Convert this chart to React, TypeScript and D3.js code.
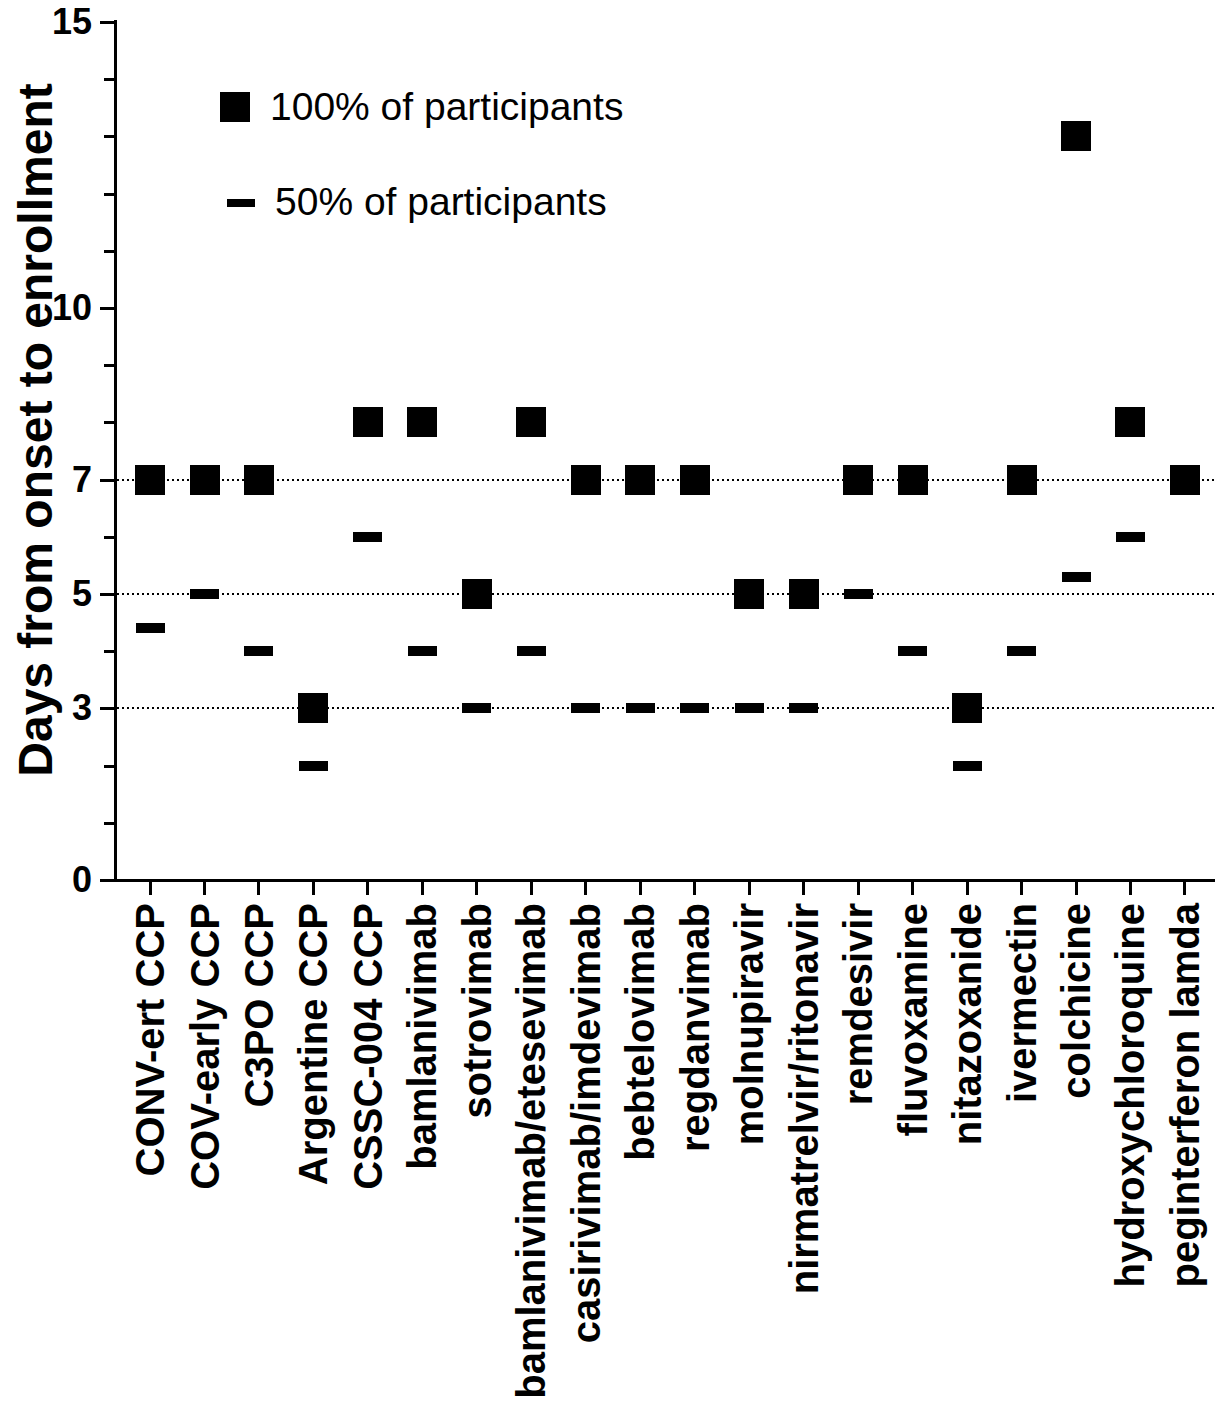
import React, { useEffect, useRef } from 'react';
import * as d3 from 'd3';

const categories = [
  'CONV-ert CCP', 'COV-early CCP', 'C3PO CCP', 'Argentine CCP', 'CSSC-004 CCP',
  'bamlanivimab', 'sotrovimab', 'bamlanivimab/etesevimab', 'casirivimab/imdevimab',
  'bebtelovimab', 'regdanvimab', 'molnupiravir', 'nirmatrelvir/ritonavir', 'remdesivir',
  'fluvoxamine', 'nitazoxanide', 'ivermectin', 'colchicine', 'hydroxychloroquine',
  'peginterferon lamda',
];

// days for 100% of participants
const fullValues = [7, 7, 7, 3, 8, 8, 5, 8, 7, 7, 7, 5, 5, 7, 7, 3, 7, 13, 8, 7];
// days for 50% of participants (none shown for the last one)
const halfValues: (number | null)[] = [4.4, 5, 4, 2, 6, 4, 3, 4, 3, 3, 3, 3, 3, 5, 4, 2, 4, 5.3, 6, null];

const yTickLabels = [0, 3, 5, 7, 10, 15];
const refLines = [3, 5, 7];

const legendItems = ['100% of participants', '50% of participants'];

const FONT = '"Liberation Sans", Arial, Helvetica, sans-serif';

const App: React.FC = () => {
  const ref = useRef<SVGSVGElement | null>(null);
  const width = 1215;
  const height = 1407;

  useEffect(() => {
    if (!ref.current) return;
    const svg = d3.select(ref.current);
    svg.selectAll('*').remove();

    const axisX = 115;
    const y = d3.scaleLinear().domain([0, 15]).range([880, 22]);
    const x = d3.scalePoint<string>().domain(categories).range([122.8, 1212.2]).padding(0.5);

    // dotted reference lines
    svg.append('g')
      .selectAll('line')
      .data(refLines)
      .join('line')
      .attr('x1', axisX + 2)
      .attr('x2', width)
      .attr('y1', d => y(d))
      .attr('y2', d => y(d))
      .attr('stroke', '#000')
      .attr('stroke-width', 2)
      .attr('stroke-dasharray', '2,3');

    // minor ticks (every day)
    const minor = svg.append('g')
      .attr('transform', `translate(${axisX},0)`)
      .call(d3.axisLeft(y)
        .tickValues(d3.range(0, 16).filter(v => !yTickLabels.includes(v)))
        .tickSize(11)
        .tickSizeOuter(0)
        .tickFormat(() => ''));
    minor.select('.domain').remove();
    minor.selectAll('line').attr('stroke-width', 3);

    // major ticks + labels
    const yAxis = svg.append('g')
      .attr('transform', `translate(${axisX},0)`)
      .call(d3.axisLeft(y)
        .tickValues(yTickLabels)
        .tickSize(15)
        .tickSizeOuter(0)
        .tickPadding(8)
        .tickFormat(d3.format('d')));
    yAxis.select('.domain').remove();
    yAxis.selectAll('line').attr('stroke-width', 3);
    yAxis.selectAll('text')
      .style('font-family', FONT)
      .style('font-size', '36px')
      .style('font-weight', 'bold')
      .attr('fill', '#000');

    // axis lines
    svg.append('line')
      .attr('x1', axisX).attr('x2', axisX)
      .attr('y1', y(15) - 2).attr('y2', y(0) + 1.5)
      .attr('stroke', '#000').attr('stroke-width', 3);
    svg.append('line')
      .attr('x1', axisX - 1.5).attr('x2', width)
      .attr('y1', y(0)).attr('y2', y(0))
      .attr('stroke', '#000').attr('stroke-width', 3);

    // x ticks
    svg.append('g')
      .selectAll('line')
      .data(categories)
      .join('line')
      .attr('x1', d => x(d)!)
      .attr('x2', d => x(d)!)
      .attr('y1', y(0))
      .attr('y2', y(0) + 15)
      .attr('stroke', '#000')
      .attr('stroke-width', 3);

    // x labels
    svg.append('g')
      .selectAll('text')
      .data(categories)
      .join('text')
      .attr('transform', d => `translate(${x(d)},903) rotate(-90)`)
      .attr('text-anchor', 'end')
      .attr('dy', '0.35em')
      .style('font-family', FONT)
      .style('font-size', '40px')
      .style('font-weight', 'bold')
      .text(d => d);

    // 100% squares
    const sq = 30;
    svg.append('g')
      .selectAll('rect')
      .data(fullValues)
      .join('rect')
      .attr('x', (d, i) => x(categories[i])! - sq / 2)
      .attr('y', d => y(d) - sq / 2)
      .attr('width', sq)
      .attr('height', sq)
      .attr('fill', '#000');

    // 50% dashes
    const dw = 29, dh = 10;
    const halfPts = halfValues
      .map((v, i) => ({ cat: categories[i], v }))
      .filter(p => p.v !== null) as { cat: string; v: number }[];
    svg.append('g')
      .selectAll('rect')
      .data(halfPts)
      .join('rect')
      .attr('x', d => x(d.cat)! - dw / 2)
      .attr('y', d => y(d.v) - dh / 2)
      .attr('width', dw)
      .attr('height', dh)
      .attr('fill', '#000');

    // legend
    const legend = svg.append('g');
    legend.append('rect')
      .attr('x', 220).attr('y', 92).attr('width', 30).attr('height', 30)
      .attr('fill', '#000');
    legend.append('rect')
      .attr('x', 227).attr('y', 199).attr('width', 28).attr('height', 8)
      .attr('fill', '#000');
    legend.selectAll('text')
      .data(legendItems)
      .join('text')
      .attr('x', (d, i) => (i === 0 ? 270 : 275))
      .attr('y', (d, i) => (i === 0 ? 120 : 215))
      .style('font-family', FONT)
      .style('font-size', '39px')
      .text(d => d);

    // y title
    svg.append('text')
      .attr('transform', 'translate(52,430) rotate(-90)')
      .attr('text-anchor', 'middle')
      .style('font-family', FONT)
      .style('font-size', '48px')
      .style('font-weight', 'bold')
      .text('Days from onset to enrollment');
  }, []);

  return (
    <svg
      ref={ref}
      width={width}
      height={height}
      style={{ position: 'absolute', left: 0, top: 0, background: '#fff' }}
      shapeRendering="crispEdges"
    />
  );
};

export default App;
